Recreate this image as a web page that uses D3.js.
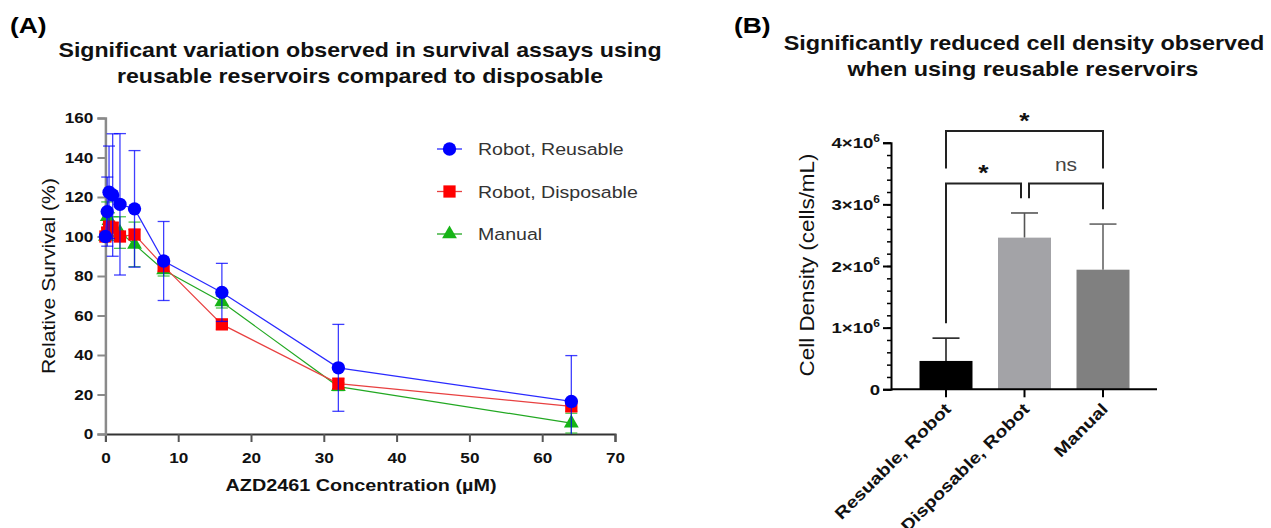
<!DOCTYPE html>
<html>
<head>
<meta charset="utf-8">
<script src="https://cdn.jsdelivr.net/npm/d3@7"></script>
<style>
  html, body { margin: 0; padding: 0; background: #ffffff; }
  svg { display: block; }
</style>
</head>
<body>
<svg id="chart" width="1271" height="528"></svg>
<script>
// ---------------- DATA ----------------
// Panel A: survival vs concentration
const doses = [0, 0.25, 0.5, 1, 2, 4, 8, 16, 32, 64];
const reusableMean = [100, 112.6, 122.4, 121, 116.3, 114, 87.6, 71.7, 33.5, 16.5];
const reusableErr  = [0, 17.5, 23.4, 31, 35.8, 29.5, 20, 14.7, 22, 23.2];
const disposableMean = [100, 102, 105, 104.5, 100, 101, 85, 55.5, 25.5, 14];
const disposableErr  = [0, 2.5, 2.5, 2.5, 2.5, 2.5, 2.5, 2.5, 2.5, 2.5];
const manualMean = [100, 110, 108, 104, 102, 96, 83, 66.8, 24, 5.5];
const manualErr  = [0, 7.5, 4, 6, 8, 11.3, 3, 3, 2, 5];
const seriesNames = ["Robot, Reusable", "Robot, Disposable", "Manual"];
const xTicksA = [0, 10, 20, 30, 40, 50, 60, 70];
const yTicksA = [0, 20, 40, 60, 80, 100, 120, 140, 160];

// Panel B: cell density
const categoriesB = ["Resuable, Robot", "Disposable, Robot", "Manual"];
const densityMean = [0.46e6, 2.46e6, 1.94e6];
const densitySD = [0.37e6, 0.40e6, 0.74e6];
const yTicksB = [0, 1e6, 2e6, 3e6, 4e6];
const comparisons = [
  { a: 0, b: 1, label: "*" },
  { a: 1, b: 2, label: "ns" },
  { a: 0, b: 2, label: "*" }
];

// ---------------- SETUP ----------------
const SX = 1.2;   // horizontal glyph stretch of the original figure text
const FONT = "'Liberation Sans', Arial, Helvetica, sans-serif";
const svg = d3.select("#chart");

function txt(parent, x, y, s, o = {}) {
  return parent.append("text")
    .attr("transform", `translate(${x},${y}) rotate(${o.rot || 0}) scale(${o.sx || SX},1)`)
    .attr("font-family", FONT)
    .attr("font-size", o.size || 14)
    .attr("font-weight", o.weight || "normal")
    .attr("text-anchor", o.anchor || "start")
    .attr("fill", o.fill || "#111")
    .text(s);
}
function stretchTicks(g) {
  g.selectAll(".tick text").each(function () {
    const t = d3.select(this);
    const x = +t.attr("x") || 0, y = +t.attr("y") || 0;
    t.attr("transform", `translate(${x},${y}) scale(${SX},1)`).attr("x", 0).attr("y", 0);
  });
}

// ---------------- PANEL A ----------------
const xA = d3.scaleLinear().domain([0, 70]).range([105.4, 615]);
const yA = d3.scaleLinear().domain([0, 160]).range([434, 118]);

txt(svg, 10, 33, "(A)", { size: 22, weight: "bold", fill: "#000" });
txt(svg, 360, 57, "Significant variation observed in survival assays using", { size: 19.3, weight: "bold", anchor: "middle", fill: "#111" });
txt(svg, 360, 83, "reusable reservoirs compared to disposable", { size: 19.3, weight: "bold", anchor: "middle", fill: "#111" });

const gAx = svg.append("g").attr("transform", `translate(0,${yA(0)})`)
  .call(d3.axisBottom(xA).tickValues(xTicksA).tickSize(8).tickPadding(11).tickFormat(d3.format("d")));
gAx.select(".domain").attr("stroke", "#333").attr("stroke-width", 2);
gAx.selectAll(".tick line").attr("stroke", "#555").attr("stroke-width", 2);
gAx.selectAll(".tick text").attr("font-family", FONT).attr("font-size", 14.3).attr("font-weight", "bold").attr("fill", "#111");
stretchTicks(gAx);

const gAy = svg.append("g").attr("transform", `translate(${xA(0)},0)`)
  .call(d3.axisLeft(yA).tickValues(yTicksA).tickSize(8).tickPadding(4).tickFormat(d3.format("d")));
gAy.select(".domain").attr("stroke", "#8a8a8a").attr("stroke-width", 2.5);
gAy.selectAll(".tick line").attr("stroke", "#8a8a8a").attr("stroke-width", 2);
gAy.selectAll(".tick text").attr("font-family", FONT).attr("font-size", 14.3).attr("font-weight", "bold").attr("fill", "#111");
stretchTicks(gAy);

txt(svg, 361, 491, "AZD2461 Concentration (µM)", { size: 16.5, weight: "bold", anchor: "middle", fill: "#111" });
txt(svg, 55, 276, "Relative Survival (%)", { size: 17.6, weight: "normal", anchor: "middle", rot: -90, fill: "#111" });

const series = [
  { name: seriesNames[2], mean: manualMean, err: manualErr, color: "#16b416", line: "#22a822", shape: "triangle" },
  { name: seriesNames[1], mean: disposableMean, err: disposableErr, color: "#ff0000", line: "#e84040", shape: "square" },
  { name: seriesNames[0], mean: reusableMean, err: reusableErr, color: "#0000ff", line: "#2a2aff", shape: "circle" }
];
const symType = { circle: d3.symbolCircle, square: d3.symbolSquare, triangle: d3.symbolTriangle };
const symSize = { circle: 140, square: 150, triangle: 95 };

series.forEach(s => {
  const g = svg.append("g");
  const pts = doses.map((d, i) => ({ x: d, y: s.mean[i], e: s.err[i] }));
  g.append("path").datum(pts)
    .attr("fill", "none").attr("stroke", s.line).attr("stroke-width", 1.2)
    .attr("d", d3.line().x(p => xA(p.x)).y(p => yA(p.y)));
  pts.filter(p => p.e > 0).forEach(p => {
    const cx = xA(p.x);
    const yt = yA(p.y + p.e), yb = yA(Math.max(0, p.y - p.e));
    g.append("line").attr("x1", cx).attr("x2", cx).attr("y1", yt).attr("y2", yb)
      .attr("stroke", s.color).attr("stroke-width", 1.3).attr("opacity", 0.75);
    g.append("line").attr("x1", cx - 6).attr("x2", cx + 6).attr("y1", yt).attr("y2", yt)
      .attr("stroke", s.color).attr("stroke-width", 1.3).attr("opacity", 0.75);
    if (p.y - p.e > 0) {
      g.append("line").attr("x1", cx - 6).attr("x2", cx + 6).attr("y1", yb).attr("y2", yb)
        .attr("stroke", s.color).attr("stroke-width", 1.3).attr("opacity", 0.75);
    }
  });
  g.selectAll("path.m").data(pts).enter().append("path").attr("class", "m")
    .attr("transform", p => `translate(${xA(p.x)},${yA(p.y)})`)
    .attr("d", d3.symbol().type(symType[s.shape]).size(symSize[s.shape]))
    .attr("fill", s.color);
});

// legend
const legendSeries = [series[2], series[1], series[0]];
legendSeries.forEach((s, i) => {
  const ly = 149 + i * 42.5;
  svg.append("line").attr("x1", 437).attr("x2", 462).attr("y1", ly).attr("y2", ly)
    .attr("stroke", s.line).attr("stroke-width", 1.3);
  svg.append("path").attr("transform", `translate(449.5,${ly})`)
    .attr("d", d3.symbol().type(symType[s.shape]).size(symSize[s.shape])).attr("fill", s.color);
  txt(svg, 478, ly + 6, s.name, { size: 16.3, fill: "#333" });
});

// ---------------- PANEL B ----------------
const xB = d3.scaleBand().domain(categoriesB).range([906.75, 1142.25]).paddingInner(0.325).paddingOuter(0.1625);
const yB = d3.scaleLinear().domain([0, 4e6]).range([389.3, 142.7]);
const barColors = ["#000000", "#a3a3a7", "#808080"];
const errColors = ["#222222", "#555555", "#666666"];

txt(svg, 734, 33, "(B)", { size: 22, weight: "bold", fill: "#000" });
txt(svg, 1024, 50, "Significantly reduced cell density observed", { size: 19.5, weight: "bold", anchor: "middle", fill: "#111" });
txt(svg, 1023, 76, "when using reusable reservoirs", { size: 19.5, weight: "bold", anchor: "middle", fill: "#111" });

categoriesB.forEach((c, i) => {
  const cx = xB(c) + xB.bandwidth() / 2;
  const yt = yB(densityMean[i] + densitySD[i]);
  svg.append("line").attr("x1", cx).attr("x2", cx).attr("y1", yt).attr("y2", yB(densityMean[i]))
    .attr("stroke", errColors[i]).attr("stroke-width", 1.6);
  svg.append("line").attr("x1", cx - 13.5).attr("x2", cx + 13.5).attr("y1", yt).attr("y2", yt)
    .attr("stroke", errColors[i]).attr("stroke-width", 1.6);
});
svg.selectAll("rect.bar").data(categoriesB).enter().append("rect").attr("class", "bar")
  .attr("x", c => xB(c)).attr("width", xB.bandwidth())
  .attr("y", (c, i) => yB(densityMean[i])).attr("height", (c, i) => yB(0) - yB(densityMean[i]))
  .attr("fill", (c, i) => barColors[i]);

const gBm = svg.append("g").attr("transform", `translate(891,0)`)
  .call(d3.axisLeft(yB).tickValues(d3.range(0, 4e6 + 1, 2e5)).tickSize(4).tickFormat(""));
gBm.selectAll(".tick line").attr("stroke", "#000").attr("stroke-width", 1.5);
gBm.select(".domain").remove();
const gBy = svg.append("g").attr("transform", `translate(891,0)`)
  .call(d3.axisLeft(yB).tickValues(yTicksB).tickSize(8).tickFormat(""));
gBy.select(".domain").attr("stroke", "#000").attr("stroke-width", 2);
gBy.selectAll(".tick line").attr("stroke", "#000").attr("stroke-width", 2);
yTicksB.forEach(v => {
  const t = svg.append("text")
    .attr("transform", `translate(880,${yB(v) + 5.5}) scale(${SX},1)`)
    .attr("font-family", FONT).attr("font-size", 15.5).attr("font-weight", "bold")
    .attr("text-anchor", "end").attr("fill", "#111");
  if (v === 0) { t.text("0"); }
  else {
    t.append("tspan").text(`${v / 1e6}×10`);
    t.append("tspan").attr("dy", -6.5).attr("font-size", 10).text("6");
  }
});
const gBx = svg.append("g").attr("transform", `translate(0,${yB(0)})`)
  .call(d3.axisBottom(xB).tickSize(8).tickFormat(""));
gBx.select(".domain").attr("d", `M891,0H1157`).attr("stroke", "#000").attr("stroke-width", 2);
gBx.selectAll(".tick line").attr("stroke", "#000").attr("stroke-width", 2);
categoriesB.forEach(c => {
  const cx = xB(c) + xB.bandwidth() / 2;
  txt(svg, cx + 6, 410, c, { size: 16.5, weight: "bold", anchor: "end", rot: -45, fill: "#111" });
});
txt(svg, 814, 265, "Cell Density (cells/mL)", { size: 19.5, anchor: "middle", rot: -90, fill: "#111", sx: 1.15 });

// significance brackets
const gapB = 0.24e6;
const lowLevel = 3.34e6, highLevel = 4.19e6;
comparisons.forEach(cmp => {
  const ca = xB(categoriesB[cmp.a]) + xB.bandwidth() / 2;
  const cb = xB(categoriesB[cmp.b]) + xB.bandwidth() / 2;
  const wide = cmp.b - cmp.a > 1;
  const level = wide ? highLevel : lowLevel;
  const xa = ca + (!wide && cmp.a === 1 ? 4.5 : 0);
  const xb = cb - (!wide && cmp.b === 1 ? 3.5 : 0);
  const ya = wide ? lowLevel + gapB : densityMean[cmp.a] + densitySD[cmp.a] + gapB;
  const yb = wide ? lowLevel + gapB : densityMean[cmp.b] + densitySD[cmp.b] + gapB;
  svg.append("path")
    .attr("d", `M${xa},${yB(ya)}V${yB(level)}H${xb}V${yB(yb)}`)
    .attr("fill", "none").attr("stroke", "#222").attr("stroke-width", 2);
  const mx = (xa + xb) / 2;
  if (cmp.label === "*") txt(svg, mx, yB(level) - 3, "*", { size: 22, weight: "bold", anchor: "middle", fill: "#111" });
  else txt(svg, mx, yB(level) - 12, cmp.label, { size: 17.5, anchor: "middle", fill: "#444" });
});
</script>
</body>
</html>
